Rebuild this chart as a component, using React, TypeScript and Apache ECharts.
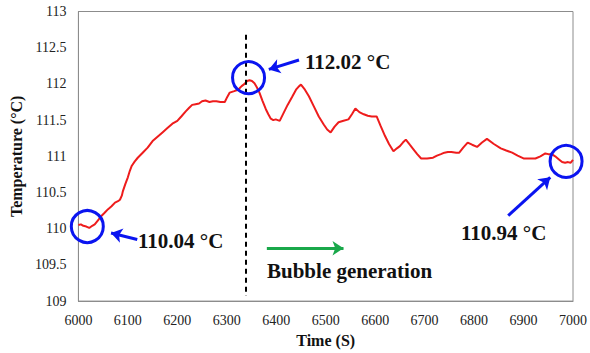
import React, { useEffect, useRef } from "react";
import * as echarts from "echarts";

const times = [
  6000, 6005, 6010, 6016, 6022, 6028, 6033, 6040, 6047, 6053, 6060, 6067, 6074, 6080, 6084, 6088, 6090, 6095,
  6100, 6104, 6108, 6114, 6120, 6130, 6140, 6150, 6160, 6170, 6180, 6190, 6200, 6208, 6217, 6224, 6230, 6237,
  6244, 6250, 6257, 6265, 6272, 6279, 6287, 6296, 6301, 6306, 6315, 6323, 6330, 6336, 6341, 6346, 6351, 6356,
  6361, 6366, 6372, 6379, 6384, 6389, 6394, 6399, 6403, 6407, 6415, 6423, 6432, 6440, 6445, 6450, 6458, 6466,
  6476, 6486, 6496, 6503, 6510, 6518, 6526, 6536, 6546, 6553, 6560, 6568, 6577, 6585, 6593, 6603, 6611, 6620,
  6628, 6637, 6644, 6650, 6656, 6662, 6670, 6677, 6685, 6693, 6705, 6717, 6725, 6733, 6740, 6747, 6754, 6764,
  6770, 6778, 6787, 6796, 6806, 6816, 6826, 6840, 6854, 6865, 6877, 6888, 6900, 6912, 6924, 6934, 6944, 6950,
  6957, 6964, 6971, 6978, 6984, 6990, 6995, 7000,
];
const temps = [
  110.05, 110.06, 110.04, 110.03, 110.01, 110.04, 110.06, 110.12, 110.18, 110.22, 110.27, 110.31, 110.36, 110.38,
  110.4, 110.46, 110.52, 110.62, 110.71, 110.8, 110.87, 110.93, 110.98, 111.05, 111.12, 111.21, 111.27, 111.33,
  111.39, 111.45, 111.49, 111.55, 111.62, 111.67, 111.71, 111.72, 111.73, 111.76, 111.77, 111.75, 111.76, 111.76,
  111.75, 111.75, 111.82, 111.88, 111.9, 111.92, 111.97, 112.0, 112.04, 112.05, 112.04, 112.01, 111.95, 111.88,
  111.77, 111.65, 111.58, 111.52, 111.5, 111.51, 111.5, 111.49, 111.6, 111.71, 111.82, 111.92, 111.96, 111.99,
  111.92, 111.83, 111.69, 111.55, 111.44, 111.37, 111.33, 111.41, 111.47, 111.49, 111.51, 111.58, 111.66, 111.61,
  111.58, 111.56, 111.55, 111.55, 111.42, 111.28, 111.17, 111.07, 111.11, 111.14, 111.19, 111.23, 111.16, 111.1,
  111.03, 110.97, 110.97, 110.98, 111.01, 111.03, 111.05, 111.06, 111.06, 111.05, 111.05, 111.12, 111.19, 111.16,
  111.13, 111.19, 111.24, 111.17, 111.11, 111.08, 111.05, 111.01, 110.97, 110.97, 110.97, 111.0, 111.04, 111.03,
  111.03, 111.0, 110.96, 110.92, 110.91, 110.92, 110.91, 110.95,
];

// highlighted points (time, temperature)
const circleTimes = [6018, 6344, 6986];
const circleTemps = [110.03, 112.086, 110.93];

// blue arrows: [tailT, tailY, headT, headY]
const blueArrows = [
  [6119, 109.85, 6066, 109.94],
  [6446, 112.33, 6385, 112.2],
  [6869, 110.18, 6954, 110.71],
];
const greenArrow = [6381, 109.73, 6536, 109.73];
const bubbleTime = 6339;
const bubbleLineRange = [112.68, 109.07];

const annotationTexts = ["110.04 °C", "112.02 °C", "110.94 °C", "Bubble generation"];

const FONT = "Times New Roman, Liberation Serif, DejaVu Serif, serif";

export default function App() {
  const ref = useRef<HTMLDivElement>(null);
  useEffect(() => {
    if (!ref.current) return;
    const chart = echarts.init(ref.current, undefined, { renderer: "svg" });
    const lineData = times.map((t, i) => [t, temps[i]]);
    const markLines: any[] = blueArrows.map((a) => [
      { coord: [a[0], a[1]], symbol: "none", lineStyle: { color: "#0a14f0", width: 3, type: "solid" } },
      { coord: [a[2], a[3]], symbol: "arrow" },
    ]);
    markLines.push([
      { coord: [greenArrow[0], greenArrow[1]], symbol: "none", lineStyle: { color: "#19a84a", width: 3, type: "solid" } },
      { coord: [greenArrow[2], greenArrow[3]], symbol: "arrow" },
    ]);
    markLines.push([
      { coord: [bubbleTime, bubbleLineRange[0]], symbol: "none", lineStyle: { color: "#000", width: 2, type: [5, 4] } },
      { coord: [bubbleTime, bubbleLineRange[1]], symbol: "none" },
    ]);
    const textStyle = { fill: "#111", fontFamily: FONT, fontWeight: "bold", fontSize: 21 };
    chart.setOption({
      animation: false,
      textStyle: { fontFamily: FONT },
      grid: { left: 74, right: 17, top: 11.5, bottom: 50.5, show: true, borderColor: "#8c8c8c", borderWidth: 1 },
      xAxis: {
        type: "value",
        min: 6000,
        max: 7000,
        interval: 100,
        name: "Time (S)",
        nameLocation: "middle",
        nameGap: 29,
        nameTextStyle: { fontFamily: FONT, fontWeight: "bold", fontSize: 16, color: "#111" },
        axisLine: { show: true, lineStyle: { color: "#8c8c8c", width: 1 } },
        axisTick: { show: false },
        splitLine: { show: false },
        axisLabel: { fontFamily: FONT, fontSize: 14, color: "#222", margin: 12, formatter: (v: number) => String(v) },
      },
      yAxis: {
        type: "value",
        min: 109,
        max: 113,
        interval: 0.5,
        name: "Temperature (°C)",
        nameLocation: "middle",
        nameGap: 41,
        nameTextStyle: { fontFamily: FONT, fontWeight: "bold", fontSize: 16, color: "#111" },
        axisLine: { show: true, lineStyle: { color: "#8c8c8c", width: 1 } },
        axisTick: { show: false },
        splitLine: { show: false },
        axisLabel: { fontFamily: FONT, fontSize: 14, color: "#222", margin: 12, formatter: (v: number) => String(v) },
      },
      series: [
        {
          type: "line",
          data: lineData,
          showSymbol: false,
          symbol: "none",
          lineStyle: { color: "#ee1c1c", width: 2 },
          markLine: {
            silent: true,
            symbol: ["none", "arrow"],
            symbolSize: 11,
            label: { show: false },
            data: markLines,
          },
          markPoint: {
            silent: true,
            symbol: "circle",
            symbolSize: 32,
            label: { show: false },
            itemStyle: { color: "rgba(0,0,0,0)", borderColor: "#0a14f0", borderWidth: 3 },
            data: circleTimes.map((t, i) => ({ coord: [t, circleTemps[i]] })),
          },
        },
      ],
      graphic: [
        { type: "text", left: 138, top: 230, style: { ...textStyle, text: annotationTexts[0] } },
        { type: "text", left: 305, top: 51, style: { ...textStyle, text: annotationTexts[1] } },
        { type: "text", left: 461, top: 222, style: { ...textStyle, text: annotationTexts[2] } },
        { type: "text", left: 267, top: 260, style: { ...textStyle, text: annotationTexts[3] } },
      ],
    });
    return () => chart.dispose();
  }, []);
  return <div ref={ref} style={{ width: 590, height: 353, position: "absolute", left: 0, top: 0 }} />;
}
